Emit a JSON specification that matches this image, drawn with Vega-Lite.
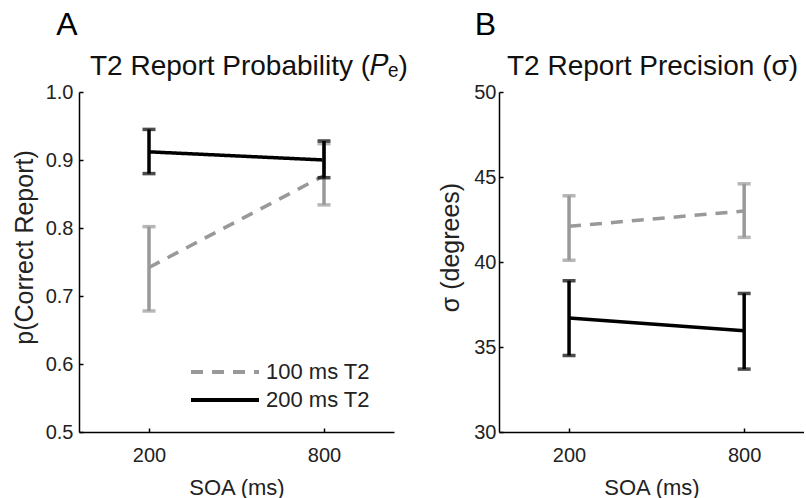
{
  "$schema": "https://vega.github.io/schema/vega-lite/v6.json",
  "background": "white",
  "padding": {"left": 12, "top": 9, "right": 0, "bottom": 0},
  "config": {
    "font": "Liberation Sans",
    "view": {"stroke": null},
    "axis": {"grid": false, "domainColor": "#000", "domainWidth": 1.5, "tickColor": "#000", "tickWidth": 1.5, "tickSize": -4, "labelFontSize": 20, "labelColor": "#222", "titleFontSize": 22, "titleFontWeight": "normal", "titleColor": "#222", "labelPadding": 10},
    "axisX": {"labelPadding": 17, "titlePadding": 12},
    "axisY": {"titlePadding": 8, "titleY": 155, "titleFontSize": 25},
    "title": {"fontSize": 32, "fontWeight": "normal", "anchor": "start", "color": "#000"},
    "concat": {"spacing": 30}
  },
  "datasets": {
    "A": [
      {"cond": "100 ms T2", "soa": 200, "mean": 0.742, "lo": 0.678, "hi": 0.802},
      {"cond": "100 ms T2", "soa": 800, "mean": 0.877, "lo": 0.834, "hi": 0.924},
      {"cond": "200 ms T2", "soa": 200, "mean": 0.912, "lo": 0.880, "hi": 0.945},
      {"cond": "200 ms T2", "soa": 800, "mean": 0.900, "lo": 0.874, "hi": 0.928}
    ],
    "B": [
      {"cond": "100 ms T2", "soa": 200, "mean": 42.1, "lo": 40.1, "hi": 43.9},
      {"cond": "100 ms T2", "soa": 800, "mean": 43.0, "lo": 41.45, "hi": 44.6},
      {"cond": "200 ms T2", "soa": 200, "mean": 36.7, "lo": 34.5, "hi": 38.9},
      {"cond": "200 ms T2", "soa": 800, "mean": 35.95, "lo": 33.7, "hi": 38.15}
    ]
  },
  "hconcat": [
    {
      "title": {"text": "A", "fontSize": 32, "dx": 44, "offset": 11},
      "vconcat": [
        {
          "width": 315,
          "height": 340,
          "title": {"text": "T2 Report Probability (𝑃ₑ)", "fontSize": 28, "anchor": "start", "frame": "group", "dx": 11, "offset": 1, "color": "#111"},
          "data": {"name": "A"},
          "encoding": {
            "x": {"field": "soa", "type": "quantitative", "scale": {"domain": [-40, 1040], "nice": false}, "axis": {"values": [200, 800], "title": "SOA (ms)"}}
          },
          "layer": [
            {
              "mark": {"type": "line", "strokeWidth": 3.5},
              "encoding": {
                "y": {"field": "mean", "type": "quantitative", "scale": {"domain": [0.5, 1.0], "nice": false}, "axis": {"values": [0.5, 0.6, 0.7, 0.8, 0.9, 1.0], "format": ".1f", "title": "p(Correct Report)"}},
                "color": {"field": "cond", "type": "nominal", "scale": {"domain": ["100 ms T2", "200 ms T2"], "range": ["#999999", "#000000"]},
                  "legend": {"orient": "none", "legendX": 110, "legendY": 269, "title": null, "symbolType": "stroke", "symbolSize": 4624, "symbolStrokeWidth": 4, "clipHeight": 22, "labelFontSize": 22, "labelOffset": 5, "rowPadding": 6, "labelColor": "#222"}},
                "strokeDash": {"field": "cond", "type": "nominal", "scale": {"domain": ["100 ms T2", "200 ms T2"], "range": [[12, 9], [1, 0]]},
                  "legend": {"orient": "none", "legendX": 110, "legendY": 269, "title": null, "symbolType": "stroke", "symbolSize": 4624, "symbolStrokeWidth": 4, "clipHeight": 22, "labelFontSize": 22, "labelOffset": 5, "rowPadding": 6, "labelColor": "#222"}}
              }
            },
            {
              "transform": [{"filter": "datum.cond === '100 ms T2'"}],
              "mark": {"type": "rule", "color": "#999999", "strokeWidth": 3.5},
              "encoding": {"y": {"field": "lo", "type": "quantitative"}, "y2": {"field": "hi"}}
            },
            {
              "transform": [{"filter": "datum.cond === '100 ms T2'"}, {"fold": ["lo", "hi"], "as": ["end", "val"]}],
              "mark": {"type": "tick", "orient": "horizontal", "color": "#999999", "size": 13, "thickness": 3.5},
              "encoding": {"y": {"field": "val", "type": "quantitative"}}
            },
            {
              "transform": [{"filter": "datum.cond === '200 ms T2'"}],
              "mark": {"type": "rule", "color": "#000000", "strokeWidth": 3.5},
              "encoding": {"y": {"field": "lo", "type": "quantitative"}, "y2": {"field": "hi"}}
            },
            {
              "transform": [{"filter": "datum.cond === '200 ms T2'"}, {"fold": ["lo", "hi"], "as": ["end", "val"]}],
              "mark": {"type": "tick", "orient": "horizontal", "color": "#000000", "size": 13, "thickness": 3.5},
              "encoding": {"y": {"field": "val", "type": "quantitative"}}
            }
          ]
        }
      ]
    },
    {
      "title": {"text": "B", "fontSize": 32, "dx": 36, "offset": 11},
      "vconcat": [
        {
          "width": 305,
          "height": 340,
          "title": {"text": "T2 Report Precision (σ)", "fontSize": 28, "anchor": "start", "frame": "group", "dx": 8, "offset": 1, "color": "#111"},
          "data": {"name": "B"},
          "encoding": {
            "x": {"field": "soa", "type": "quantitative", "scale": {"domain": [-40, 1005], "nice": false}, "axis": {"values": [200, 800], "title": "SOA (ms)"}}
          },
          "layer": [
            {
              "transform": [{"filter": "datum.cond === '100 ms T2'"}],
              "mark": {"type": "line", "strokeWidth": 3.5, "color": "#999999", "strokeDash": [12, 9]},
              "encoding": {"y": {"field": "mean", "type": "quantitative", "scale": {"domain": [30, 50], "nice": false}, "axis": {"values": [30, 35, 40, 45, 50], "title": "σ (degrees)", "labelPadding": 7, "titlePadding": 10}}}
            },
            {
              "transform": [{"filter": "datum.cond === '200 ms T2'"}],
              "mark": {"type": "line", "strokeWidth": 3.5, "color": "#000000"},
              "encoding": {"y": {"field": "mean", "type": "quantitative"}}
            },
            {
              "transform": [{"filter": "datum.cond === '100 ms T2'"}],
              "mark": {"type": "rule", "color": "#999999", "strokeWidth": 3.5},
              "encoding": {"y": {"field": "lo", "type": "quantitative"}, "y2": {"field": "hi"}}
            },
            {
              "transform": [{"filter": "datum.cond === '100 ms T2'"}, {"fold": ["lo", "hi"], "as": ["end", "val"]}],
              "mark": {"type": "tick", "orient": "horizontal", "color": "#999999", "size": 13, "thickness": 3.5},
              "encoding": {"y": {"field": "val", "type": "quantitative"}}
            },
            {
              "transform": [{"filter": "datum.cond === '200 ms T2'"}],
              "mark": {"type": "rule", "color": "#000000", "strokeWidth": 3.5},
              "encoding": {"y": {"field": "lo", "type": "quantitative"}, "y2": {"field": "hi"}}
            },
            {
              "transform": [{"filter": "datum.cond === '200 ms T2'"}, {"fold": ["lo", "hi"], "as": ["end", "val"]}],
              "mark": {"type": "tick", "orient": "horizontal", "color": "#000000", "size": 13, "thickness": 3.5},
              "encoding": {"y": {"field": "val", "type": "quantitative"}}
            }
          ]
        }
      ]
    }
  ]
}
